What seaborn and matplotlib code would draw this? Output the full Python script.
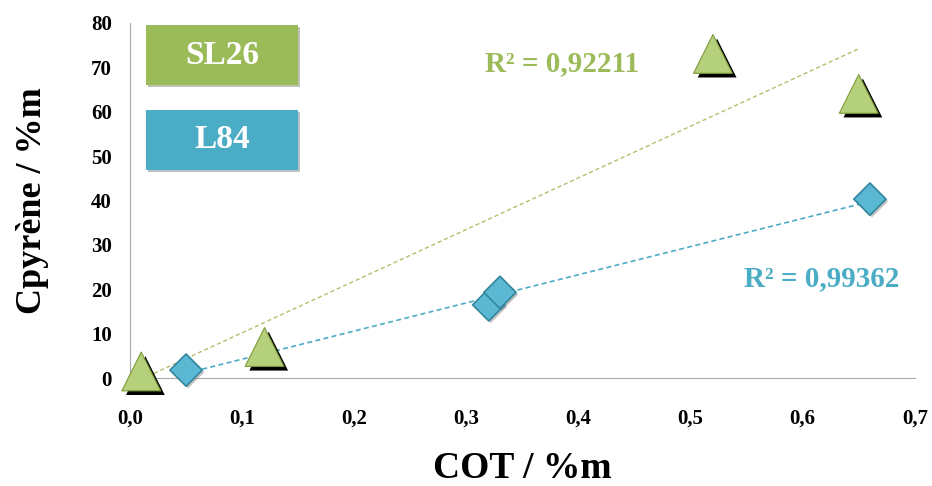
import matplotlib
matplotlib.use("Agg")
import matplotlib.pyplot as plt
import matplotlib.patheffects as pe
from matplotlib.patches import Rectangle
import seaborn as sns
import pandas as pd

# SL26 (triangles) and L84 (diamonds)
sl26_cot = [0.01, 0.12, 0.52, 0.65]
sl26_pyr = [1.5, 7.0, 73.0, 64.0]
l84_cot = [0.05, 0.32, 0.33, 0.66]
l84_pyr = [1.8, 16.5, 19.3, 40.3]
r2_sl26 = "R² = 0,92211"
r2_l84 = "R² = 0,99362"
xticks = [0.0, 0.1, 0.2, 0.3, 0.4, 0.5, 0.6, 0.7]
yticks = [0, 10, 20, 30, 40, 50, 60, 70, 80]

green = "#9BBB59"
blue = "#4BACC6"

sns.set_style("white")
plt.rcParams['font.family'] = ['Liberation Serif', 'DejaVu Serif']
plt.rcParams['font.weight'] = 'bold'
plt.rcParams['text.color'] = 'black'
plt.rcParams['axes.labelcolor'] = 'black'

df_sl = pd.DataFrame({'COT': sl26_cot, 'Cpyr': sl26_pyr})
df_l = pd.DataFrame({'COT': l84_cot, 'Cpyr': l84_pyr})

fig = plt.figure(figsize=(9.32, 4.86), dpi=100)
ax = fig.add_axes([0.1395, 0.222, 0.842, 0.731])

# trend lines
sns.regplot(data=df_sl, x='COT', y='Cpyr', scatter=False, ci=None, truncate=True,
            line_kws=dict(color="#B9BC6E", ls=(0, (3, 2)), lw=1.0), ax=ax)
sns.regplot(data=df_l, x='COT', y='Cpyr', scatter=False, ci=None, truncate=True,
            line_kws=dict(color=blue, ls=(0, (3, 2)), lw=1.2), ax=ax)

# markers
sns.scatterplot(data=df_l, x='COT', y='Cpyr', marker='D', s=270, color="#5BB8D3",
                edgecolor="#31859C", linewidth=1.2, zorder=4, ax=ax, clip_on=False,
                path_effects=[pe.SimplePatchShadow(offset=(1.5, -1.5), shadow_rgbFace='#888888', alpha=0.5),
                              pe.Normal()])
sns.scatterplot(data=df_sl, x='COT', y='Cpyr', marker='^', s=780, color="#B4D07A",
                edgecolor="#7E9A3A", linewidth=0.8, zorder=5, ax=ax, clip_on=False,
                path_effects=[pe.SimplePatchShadow(offset=(3, -3), shadow_rgbFace='black', alpha=1.0),
                              pe.Normal()])

ax.set_xlim(0, 0.7)
ax.set_ylim(0, 80)
ax.set_xticks(xticks)
ax.set_xticklabels([f"{v:.1f}".replace('.', ',') for v in xticks])
ax.set_yticks(yticks)
ax.tick_params(axis='both', labelsize=15, direction='out', length=5, color='#999999',
               width=1, labelcolor='black')
ax.tick_params(axis='x', pad=17)
ax.tick_params(axis='y', pad=8)
for lab in ax.get_xticklabels() + ax.get_yticklabels():
    lab.set_fontweight('bold')

sns.despine(ax=ax)
ax.spines['left'].set_color('#AAAAAA')
ax.spines['bottom'].set_color('#AAAAAA')

ax.set_xlabel("COT / %m", fontsize=27, fontweight='bold', labelpad=16)
ax.set_ylabel("Cpyrène / %m", fontsize=26, fontweight='bold', labelpad=30)

# R² labels
ax.text(0.317, 70.8, r2_sl26, color=green, fontsize=21, fontweight='bold', va='center')
ax.text(0.548, 22.5, r2_l84, color=blue, fontsize=21, fontweight='bold', va='center')

# legend boxes
for label, col, yc in [("SL26", green, 1 - 55 / 486), ("L84", blue, 1 - 140 / 486)]:
    fig.patches.append(Rectangle((146 / 932, yc - 30 / 486), 152 / 932, 60 / 486,
                                 transform=fig.transFigure, facecolor=col, edgecolor='none',
                                 zorder=1,
                                 path_effects=[pe.SimplePatchShadow(offset=(1.5, -1.5), alpha=0.3),
                                               pe.Normal()]))
    fig.text(222 / 932, yc, label, fontsize=24, fontweight='bold', color='white',
             ha='center', va='center')

fig.savefig("out.png", dpi=100)
